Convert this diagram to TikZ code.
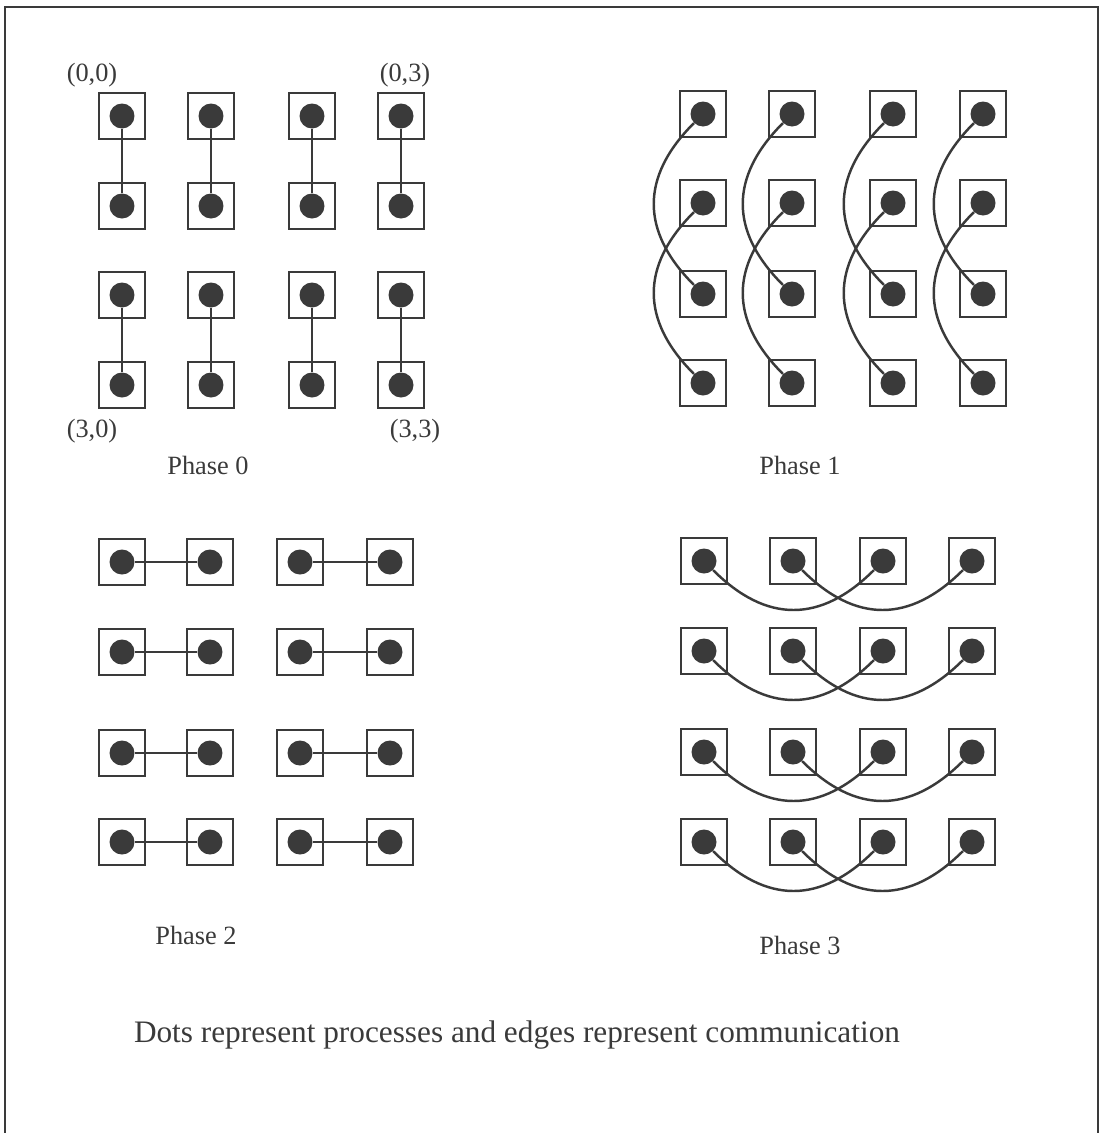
\documentclass[tikz,border=0pt]{standalone}
\usepackage{fontspec}
\setmainfont{Liberation Serif}
\usetikzlibrary{positioning}
\definecolor{ink}{HTML}{3A3A3A}

\begin{document}
\begin{tikzpicture}[
  x=0.02cm, y=0.02cm,
  every node/.append style={text=ink},
  cell/.style={draw=ink, line width=1.6pt, minimum size=0.92cm, inner sep=0pt},
  proc/.style={circle, fill=ink, minimum size=0.5cm, inner sep=0pt},
  comm/.style={draw=ink, line width=1.4pt},
  arc/.style={comm, looseness=1.2},
  lbl/.style={font=\fontsize{15}{17}\selectfont},
  note/.style={font=\fontsize{17.8}{20}\selectfont},
]
\useasboundingbox (0,0) rectangle (1101,-1133);
% outer frame (open at the bottom)
\draw[ink, line width=1.5pt] (5,-1133) -- (5,-7) -- (1098,-7) -- (1098,-1133);

% phase 0 grid
\foreach \x [count=\c from 0] in {122,211,312,401}
  \foreach \y [count=\r from 0] in {116,206,295,385} {
    \node[cell] (b0-\r-\c) at (\x,-\y) {};
    \node[proc] (d0-\r-\c) at (\x,-\y) {};
  }
% phase 1 grid
\foreach \x [count=\c from 0] in {703,792,893,983}
  \foreach \y [count=\r from 0] in {114,203,294,383} {
    \node[cell] (b1-\r-\c) at (\x,-\y) {};
    \node[proc] (d1-\r-\c) at (\x,-\y) {};
  }
% phase 2 grid
\foreach \x [count=\c from 0] in {122,210,300,390}
  \foreach \y [count=\r from 0] in {562,652,753,842} {
    \node[cell] (b2-\r-\c) at (\x,-\y) {};
    \node[proc] (d2-\r-\c) at (\x,-\y) {};
  }
% phase 3 grid
\foreach \x [count=\c from 0] in {704,793,883,972}
  \foreach \y [count=\r from 0] in {561,651,752,842} {
    \node[cell] (b3-\r-\c) at (\x,-\y) {};
    \node[proc] (d3-\r-\c) at (\x,-\y) {};
  }

% communication edges
\foreach \c in {0,...,3} {
  \draw[comm] (d0-0-\c) -- (d0-1-\c);
  \draw[comm] (d0-2-\c) -- (d0-3-\c);
  \draw[arc] (d1-0-\c) to[out=225,in=135] (d1-2-\c);
  \draw[arc] (d1-1-\c) to[out=225,in=135] (d1-3-\c);
}
\foreach \r in {0,...,3} {
  \draw[comm] (d2-\r-0) -- (d2-\r-1);
  \draw[comm] (d2-\r-2) -- (d2-\r-3);
  \draw[arc] (d3-\r-0) to[out=-45,in=-135] (d3-\r-2);
  \draw[arc] (d3-\r-1) to[out=-45,in=-135] (d3-\r-3);
}

% corner labels
\node[lbl] (c00) at (92,-75) {(0,0)};
\node[lbl] (c03) at (405,-75) {(0,3)};
\node[lbl] (c30) at (92,-431) {(3,0)};
\node[lbl] (c33) at (415,-431) {(3,3)};

% phase titles
\node[lbl] (ph0) at (208,-465) {Phase 0};
\node[lbl] (ph1) at (800,-465) {Phase 1};
\node[lbl] (ph2) at (196,-935) {Phase 2};
\node[lbl] (ph3) at (800,-945) {Phase 3};

\node[note] (legend) at (517,-1035) {Dots represent processes and edges represent communication};
\end{tikzpicture}
\end{document}
